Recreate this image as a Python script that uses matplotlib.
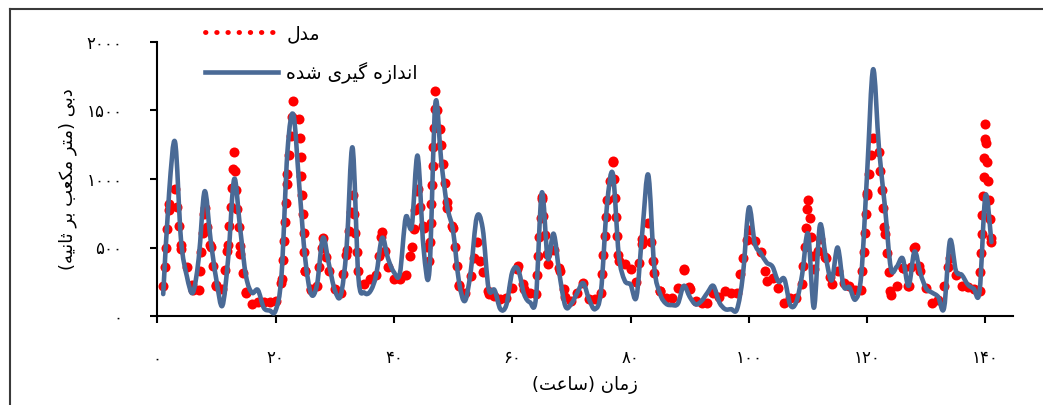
import numpy as np
import matplotlib
matplotlib.use("Agg")
import matplotlib.pyplot as plt
from matplotlib.path import Path
from matplotlib.patches import PathPatch
from matplotlib.lines import Line2D

plt.rcParams['font.family'] = ['DejaVu Sans']

# hourly series
hours = np.arange(1, 142)
measured = [
    160, 900, 1270, 560, 290, 170, 420, 910, 560, 260,
    75, 430, 1000, 640, 290, 170, 190, 60, 40, 40,
    300, 1200, 1470, 950, 420, 160, 230, 570, 380, 190,
    150, 500, 1230, 280, 170, 180, 300, 570, 420, 320,
    310, 720, 650, 1170, 500, 330, 1550, 1130, 800, 620,
    250, 110, 330, 720, 640, 200, 190, 50, 80, 320,
    340, 160, 100, 130, 900, 420, 600, 300, 70, 90,
    170, 240, 120, 50, 180, 800, 1040, 450, 260, 230,
    140, 620, 1030, 360, 160, 90, 80, 90, 220, 140,
    85, 110, 170, 220, 100, 50, 50, 50, 300, 790,
    530, 460, 390, 360, 250, 270, 80, 100, 300, 600,
    60, 660, 430, 260, 500, 220, 210, 120, 300, 1050,
    1800, 1220, 800, 350, 360, 420, 220, 470, 310, 200,
    170, 140, 60, 550, 330, 300, 230, 200, 180, 880,
    540,
]
model = [
    220, 820, 930, 490, 360, 190, 190, 790, 500, 220,
    200, 520, 1200, 450, 170, 85, 100, 100, 100, 110,
    270, 1040, 1570, 1440, 330, 190, 220, 570, 330, 200,
    170, 480, 880, 330, 230, 270, 300, 610, 360, 270,
    270, 300, 500, 930, 640, 400, 1640, 1250, 790, 640,
    220, 170, 290, 540, 320, 160, 146, 122, 134, 207,
    366, 200, 171, 160, 870, 380, 480, 330, 140, 110,
    171, 244, 122, 122, 171, 850, 1135, 400, 378, 342,
    250, 560, 680, 317, 183, 134, 134, 207, 342, 195,
    110, 98, 98, 171, 140, 180, 171, 171, 420, 630,
    549, 464, 256, 281, 207, 98, 134, 134, 230, 850,
    340, 560, 420, 230, 330, 240, 220, 190, 190, 900,
    1300, 1200, 600, 150, 220, 354, 220, 500, 330, 207,
    98, 115, 220, 420, 300, 220, 210, 200, 183, 1400,
    540,
]
xticks = [0, 20, 40, 60, 80, 100, 120, 140]
yticks = [0, 500, 1000, 1500, 2000]

legend_model = "مدل"
legend_measured = "اندازه گیری شده"
xlabel = "زمان (ساعت)"
ylabel = "دبی (متر مکعب بر ثانیه)"

blue = '#4A6A96'
red = '#FF0000'

# minimal Persian shaping (matplotlib has no bidi / joining)
FORMS = {
    'ا': ('\uFE8D', '\uFE8E', None, None),
    'ب': ('\uFE8F', '\uFE90', '\uFE91', '\uFE92'),
    'ت': ('\uFE95', '\uFE96', '\uFE97', '\uFE98'),
    'ث': ('\uFE99', '\uFE9A', '\uFE9B', '\uFE9C'),
    'د': ('\uFEA9', '\uFEAA', None, None),
    'ر': ('\uFEAD', '\uFEAE', None, None),
    'ز': ('\uFEAF', '\uFEB0', None, None),
    'س': ('\uFEB1', '\uFEB2', '\uFEB3', '\uFEB4'),
    'ش': ('\uFEB5', '\uFEB6', '\uFEB7', '\uFEB8'),
    'ع': ('\uFEC9', '\uFECA', '\uFECB', '\uFECC'),
    'ل': ('\uFEDD', '\uFEDE', '\uFEDF', '\uFEE0'),
    'م': ('\uFEE1', '\uFEE2', '\uFEE3', '\uFEE4'),
    'ن': ('\uFEE5', '\uFEE6', '\uFEE7', '\uFEE8'),
    'ه': ('\uFEE9', '\uFEEA', '\uFEEB', '\uFEEC'),
    'ی': ('\uFBFC', '\uFBFD', '\uFBFE', '\uFBFF'),
    'ک': ('\uFB8E', '\uFB8F', '\uFB90', '\uFB91'),
    'گ': ('\uFB92', '\uFB93', '\uFB94', '\uFB95'),
}


def shape(s):
    out = []
    for i, c in enumerate(s):
        if c not in FORMS:
            out.append(c)
            continue
        f = FORMS[c]
        prev = s[i - 1] if i > 0 else ''
        nxt = s[i + 1] if i + 1 < len(s) else ''
        jp = prev in FORMS and FORMS[prev][2] is not None
        jn = f[2] is not None and nxt in FORMS
        if jp and jn:
            out.append(f[3])
        elif jp:
            out.append(f[1])
        elif jn:
            out.append(f[2])
        else:
            out.append(f[0])
    vis = ''.join(out)[::-1]
    return vis.translate(str.maketrans('()', ')('))


def fa_num(n):
    return str(n).translate(str.maketrans('0123456789', '۰۱۲۳۴۵۶۷۸۹'))


fig = plt.figure(figsize=(10.43, 4.05), dpi=100)
ax = fig.add_axes([157.3 / 1043, 1 - 316 / 405, (1012.7 - 157.3) / 1043, (316 - 42) / 405])
ax.set_xlim(0, 144.6)
ax.set_ylim(0, 2000)

# measured: smooth curve (Catmull-Rom -> bezier), like Excel's smoothed line
x = hours.astype(float)
y = np.array(measured, dtype=float)
n = len(x)
verts = [(x[0], y[0])]
codes = [Path.MOVETO]
for i in range(n - 1):
    p0 = i - 1 if i > 0 else i
    p3 = i + 2 if i + 2 < n else i + 1
    c1 = (x[i] + (x[i + 1] - x[p0]) / 6, y[i] + (y[i + 1] - y[p0]) / 6)
    c2 = (x[i + 1] - (x[p3] - x[i]) / 6, y[i + 1] - (y[p3] - y[i]) / 6)
    verts += [c1, c2, (x[i + 1], y[i + 1])]
    codes += [Path.CURVE4] * 3
ax.add_patch(PathPatch(Path(verts, codes), facecolor='none', edgecolor=blue,
                       lw=3.3, zorder=3, capstyle='round', joinstyle='round'))

# model: round-dot line, pattern restarting on each segment
pts = ax.transData.transform(np.column_stack([hours, model]))
spacing = 19.0
dots = []
for i in range(len(pts) - 1):
    a, b = pts[i], pts[i + 1]
    d = b - a
    L = np.hypot(*d)
    k = np.arange(0, L, spacing)
    dots.extend(a + np.outer(k / L, d))
dots.append(pts[-1])
dd = ax.transData.inverted().transform(np.array(dots))
ax.scatter(dd[:, 0], dd[:, 1], s=52, color=red, linewidths=0, zorder=2)

for side in ['top', 'right']:
    ax.spines[side].set_visible(False)
for side in ['left', 'bottom']:
    ax.spines[side].set_linewidth(1.5)
ax.tick_params(direction='out', length=5, width=1.5, labelsize=12)
ax.tick_params(axis='y', pad=20)
ax.tick_params(axis='x', pad=19)
ax.set_xticks(xticks)
ax.set_xticklabels([fa_num(t) for t in xticks])
ax.set_yticks(yticks)
ax.set_yticklabels([fa_num(t) for t in yticks])

ax.set_xlabel(shape(xlabel), fontsize=13, labelpad=6)
ax.set_ylabel(shape(ylabel), fontsize=13, labelpad=7)

handles = [
    Line2D([], [], color=red, lw=3.5, linestyle=(0, (0.1, 2.2)), dash_capstyle='round'),
    Line2D([], [], color=blue, lw=3.3),
]
ax.legend(handles, [shape(legend_model), shape(legend_measured)],
          loc='upper left', bbox_to_anchor=(188 / 1043, 1 - 7 / 405),
          bbox_transform=fig.transFigure, frameon=False, fontsize=13.5,
          handlelength=3.9, handletextpad=0.45, labelspacing=1.0)

# outer chart-area frame (top and left edges visible)
fig.add_artist(Line2D([10 / 1043, 1], [1 - 9 / 405] * 2, transform=fig.transFigure,
                      color='#3a3a3a', lw=1.5))
fig.add_artist(Line2D([10 / 1043] * 2, [0, 1 - 9 / 405], transform=fig.transFigure,
                      color='#3a3a3a', lw=1.5))

fig.savefig("out.png", dpi=100)
